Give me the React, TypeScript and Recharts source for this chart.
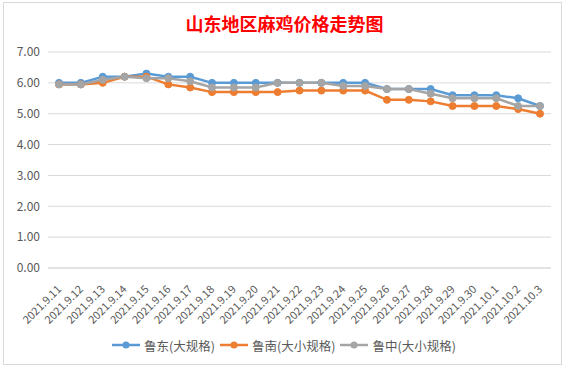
import React from 'react';
import { LineChart, Line, XAxis, YAxis, CartesianGrid, Legend } from 'recharts';

const dates = [
  '2021.9.11', '2021.9.12', '2021.9.13', '2021.9.14', '2021.9.15', '2021.9.16',
  '2021.9.17', '2021.9.18', '2021.9.19', '2021.9.20', '2021.9.21', '2021.9.22',
  '2021.9.23', '2021.9.24', '2021.9.25', '2021.9.26', '2021.9.27', '2021.9.28',
  '2021.9.29', '2021.9.30', '2021.10.1', '2021.10.2', '2021.10.3',
];

// 鲁东(大规格)
const ludong = [6.0, 6.0, 6.2, 6.2, 6.3, 6.2, 6.2, 6.0, 6.0, 6.0, 6.0, 6.0, 6.0, 6.0, 6.0, 5.8, 5.8, 5.8, 5.6, 5.6, 5.6, 5.5, 5.25];
// 鲁南(大小规格)
const lunan = [5.95, 5.95, 6.0, 6.2, 6.2, 5.95, 5.85, 5.7, 5.7, 5.7, 5.7, 5.75, 5.75, 5.75, 5.75, 5.45, 5.45, 5.4, 5.25, 5.25, 5.25, 5.15, 5.0];
// 鲁中(大小规格)
const luzhong = [5.95, 5.95, 6.1, 6.2, 6.15, 6.15, 6.05, 5.85, 5.85, 5.85, 6.0, 6.0, 6.0, 5.9, 5.9, 5.8, 5.8, 5.65, 5.5, 5.5, 5.5, 5.25, 5.25];

const yTicks = [0, 1, 2, 3, 4, 5, 6, 7];

const SERIES = [
  { key: 'ludong', name: '鲁东(大规格)', color: '#5b9bd5' },
  { key: 'lunan', name: '鲁南(大小规格)', color: '#ed7d31' },
  { key: 'luzhong', name: '鲁中(大小规格)', color: '#a5a5a5' },
];

const data = dates.map((d, i) => ({
  date: d,
  ludong: ludong[i],
  lunan: lunan[i],
  luzhong: luzhong[i],
}));

const FONT = '"Noto Sans CJK SC", "Noto Sans", sans-serif';

const XTick = (props: any) => {
  const { x, y, payload } = props;
  return (
    <g transform={`translate(${x + 3},${y + 14})`}>
      <text x={0} y={0} textAnchor="end" transform="rotate(-45)" fill="#595959" fontSize={11} fontFamily={FONT}>
        {payload.value}
      </text>
    </g>
  );
};

const LegendContent = () => (
  <div style={{ display: 'flex', justifyContent: 'center', alignItems: 'center', height: 20, fontFamily: FONT, fontSize: 12.5, color: '#595959', paddingLeft: 14 }}>
    {SERIES.map((s) => (
      <div key={s.key} style={{ display: 'flex', alignItems: 'center', marginRight: 5 }}>
        <svg width={28} height={10} style={{ marginRight: 4 }}>
          <line x1={0} y1={5} x2={28} y2={5} stroke={s.color} strokeWidth={2.5} />
          <circle cx={14} cy={5} r={3.5} fill={s.color} />
        </svg>
        <span>{s.name}</span>
      </div>
    ))}
  </div>
);

export default function App() {
  return (
    <div style={{ position: 'absolute', left: 0, top: 0, width: 569, height: 369, background: '#fff' }}>
      <div style={{ position: 'absolute', left: 3, top: 2, width: 559, height: 363, border: '1px solid #d9d9d9', boxSizing: 'border-box' }} />
      <div style={{ position: 'absolute', left: 0, top: 10, width: 569, textAlign: 'center', color: '#ff0000', fontWeight: 'bold', fontSize: 18, fontFamily: FONT, zIndex: 2 }}>
        山东地区麻鸡价格走势图
      </div>
      <LineChart width={569} height={369} data={data} margin={{ top: 52, right: 18, left: 8, bottom: 14 }}>
        <CartesianGrid vertical={false} stroke="#d9d9d9" />
        <XAxis
          dataKey="date"
          interval={0}
          height={67}
          padding={{ left: 11, right: 11 }}
          axisLine={{ stroke: '#d9d9d9' }}
          tickLine={false}
          tick={<XTick />}
        />
        <YAxis
          width={40}
          domain={[0, 7]}
          ticks={yTicks}
          axisLine={false}
          tickLine={false}
          tickFormatter={(v: number) => v.toFixed(2)}
          tick={{ fill: '#595959', fontSize: 12, fontFamily: FONT }}
        />
        <Legend verticalAlign="bottom" content={<LegendContent />} />
        {SERIES.map((s) => (
          <Line
            key={s.key}
            type="linear"
            dataKey={s.key}
            name={s.name}
            stroke={s.color}
            strokeWidth={2.5}
            dot={{ r: 3.5, fill: s.color, stroke: s.color, strokeWidth: 1 }}
            activeDot={false}
            isAnimationActive={false}
          />
        ))}
      </LineChart>
    </div>
  );
}
